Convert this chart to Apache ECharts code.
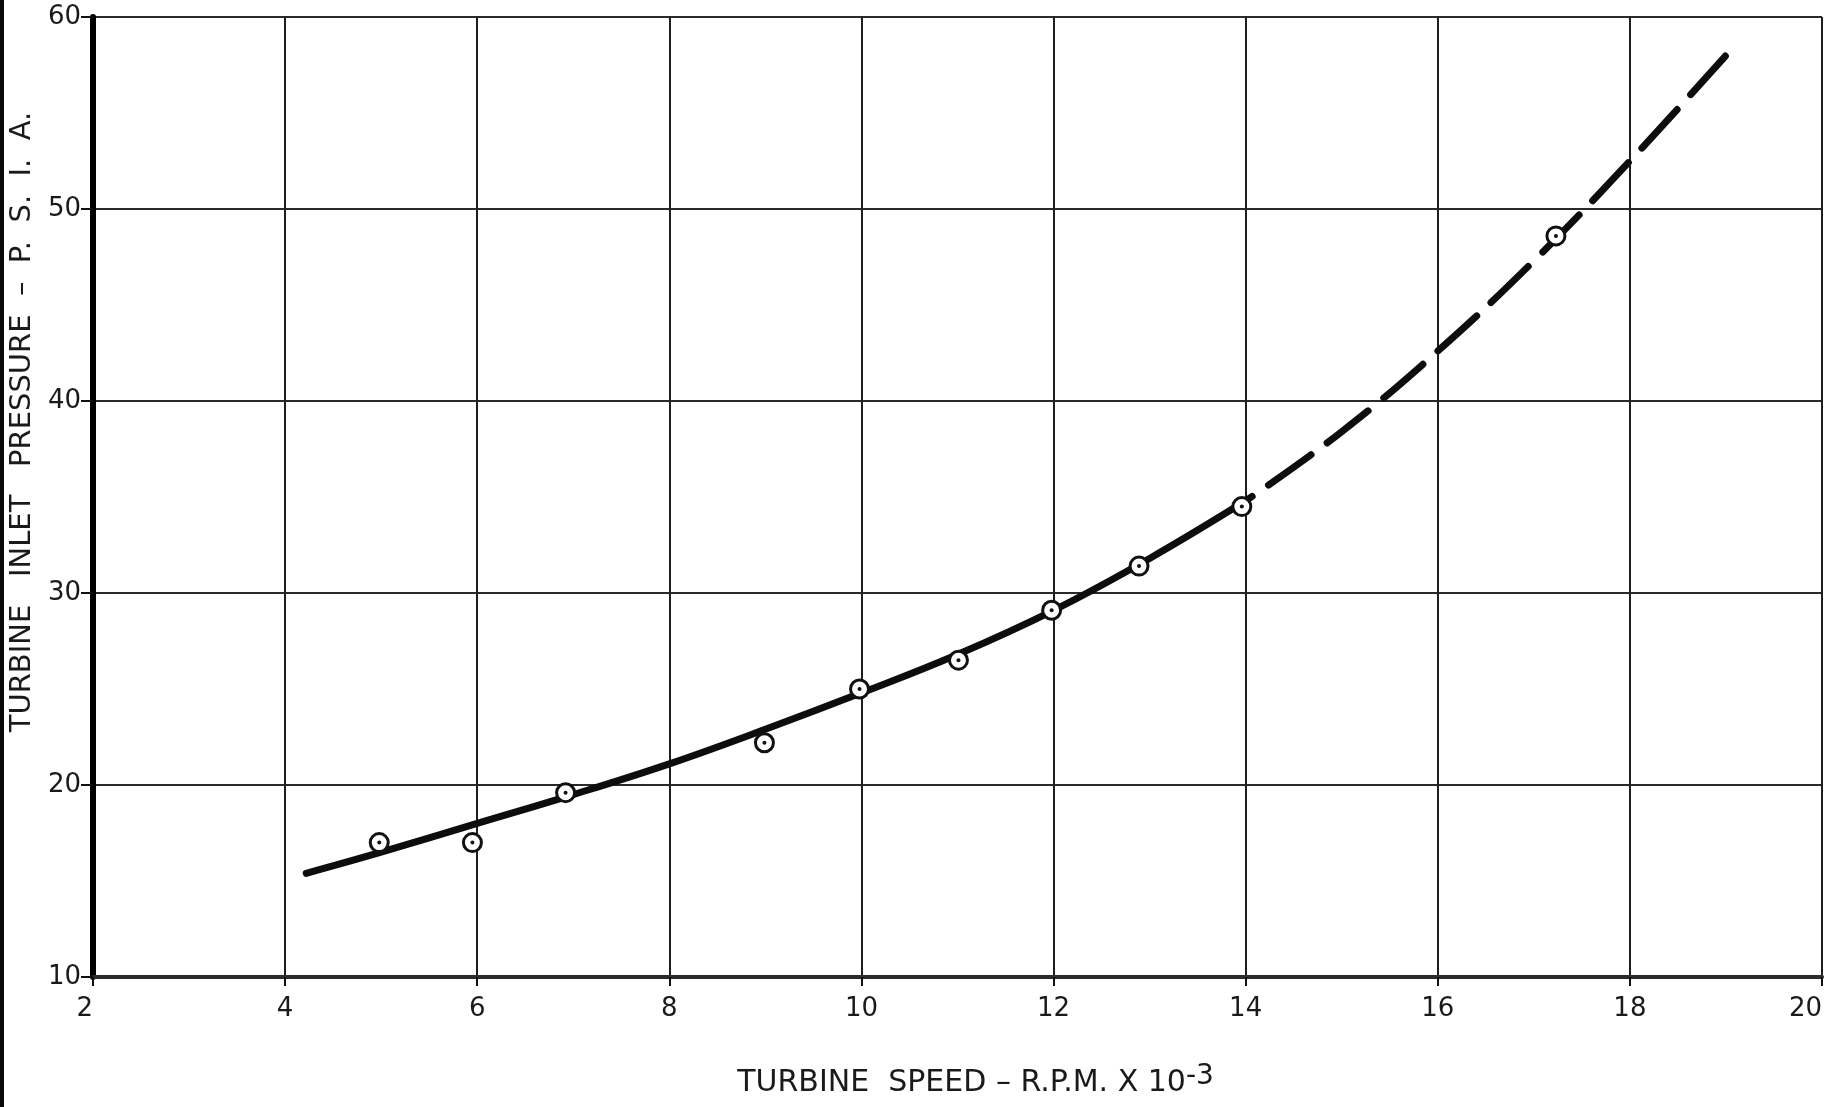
<!DOCTYPE html>
<html>
<head>
<meta charset="utf-8">
<script src="https://cdn.jsdelivr.net/npm/echarts@6/dist/echarts.min.js"></script>
<style>
html, body { margin: 0; padding: 0; background: #fff; }
#container { width: 1844px; height: 1107px; }
</style>
</head>
<body>
<div id="container"></div>
<script>
let chart = echarts.init(document.getElementById('container'));

// test points (speed in rpm x 10^-3, pressure psia)
let measuredSpeed = [4.98, 5.95, 6.92, 8.99, 9.98, 11.01, 11.98, 12.89, 13.96, 17.23];
let measuredPressure = [17.0, 17.0, 19.6, 22.2, 25.0, 26.5, 29.1, 31.4, 34.5, 48.6];

// faired curve, solid part
let fairedSpeed = [4.22, 5, 6, 7, 8, 9, 10, 11, 12, 13, 14];
let fairedPressure = [15.4, 16.5, 18.0, 19.5, 21.1, 22.9, 24.8, 26.8, 29.1, 31.8, 34.8];

// extrapolated part, dashed
let extrapSpeed = [14, 15, 16, 17, 18, 19];
let extrapPressure = [34.8, 38.4, 42.6, 47.3, 52.5, 58.0];

let font = 'DejaVu Sans';

function pairs(xs, ys) {
    return xs.map((x, i) => [x, ys[i]]);
}

let option = {
    backgroundColor: '#fff',
    animation: false,
    grid: {
        left: 93,
        right: 22,
        top: 17,
        bottom: 130,
    },
    xAxis: {
        type: 'value',
        min: 2,
        max: 20,
        interval: 2,
        name: '{a|TURBINE  SPEED – R.P.M. X 10}{b|-3}',
        nameLocation: 'middle',
        nameGap: 86,
        nameTextStyle: {
            padding: [0, 0, 0, 36],
            rich: {
                a: { fontFamily: font, fontSize: 30, lineHeight: 40, color: '#1a1a1a' },
                b: { fontFamily: font, fontSize: 28, lineHeight: 18, verticalAlign: 'top', color: '#1a1a1a' },
            },
        },
        axisLine: { show: true, onZero: false, lineStyle: { color: '#2b2b2b', width: 4 } },
        axisTick: { show: true, length: 9, lineStyle: { color: '#111', width: 2 } },
        axisLabel: {
            margin: 19,
            fontFamily: font,
            fontSize: 26,
            color: '#1a1a1a',
            alignMinLabel: 'right',
            alignMaxLabel: 'right',
        },
        splitLine: { show: true, lineStyle: { color: '#1e1e1e', width: 2 } },
    },
    yAxis: {
        type: 'value',
        min: 10,
        max: 60,
        interval: 10,
        name: 'TURBINE   INLET   PRESSURE  –  P.  S.  I.  A.',
        nameLocation: 'middle',
        nameGap: 55,
        nameTextStyle: {
            fontFamily: font,
            fontSize: 29,
            color: '#1a1a1a',
            padding: [0, 0, 0, 150],
        },
        axisLine: { show: true, onZero: false, lineStyle: { color: '#000', width: 6 } },
        axisTick: { show: true, length: 12, lineStyle: { color: '#111', width: 2 } },
        axisLabel: {
            margin: 12,
            fontFamily: font,
            fontSize: 26,
            color: '#1a1a1a',
        },
        splitLine: { show: true, lineStyle: { color: '#2a2a2a', width: 2 } },
    },
    graphic: [{
        type: 'rect',
        left: 0,
        top: 0,
        shape: { width: 4, height: 1107 },
        style: { fill: '#0a0a0a' },
    }],
    series: [{
            name: 'faired',
            type: 'line',
            smooth: 0.4,
            showSymbol: false,
            lineStyle: { color: '#0d0d0d', width: 7, cap: 'round' },
            data: pairs(fairedSpeed, fairedPressure),
            z: 3,
        },
        {
            name: 'extrapolated',
            type: 'line',
            smooth: 0.4,
            showSymbol: false,
            lineStyle: { color: '#0d0d0d', width: 7, type: [52, 20], dashOffset: 44, cap: 'round' },
            data: pairs(extrapSpeed, extrapPressure),
            z: 3,
        },
        {
            name: 'test points',
            type: 'scatter',
            symbol: 'circle',
            symbolSize: 18,
            itemStyle: { color: '#fff', borderColor: '#111', borderWidth: 3, opacity: 1 },
            data: pairs(measuredSpeed, measuredPressure),
            z: 4,
        },
        {
            name: 'test point centres',
            type: 'scatter',
            symbol: 'circle',
            symbolSize: 4,
            itemStyle: { color: '#111', opacity: 1 },
            data: pairs(measuredSpeed, measuredPressure),
            z: 5,
        },
    ]
};

chart.setOption(option);
</script>
</body>
</html>
